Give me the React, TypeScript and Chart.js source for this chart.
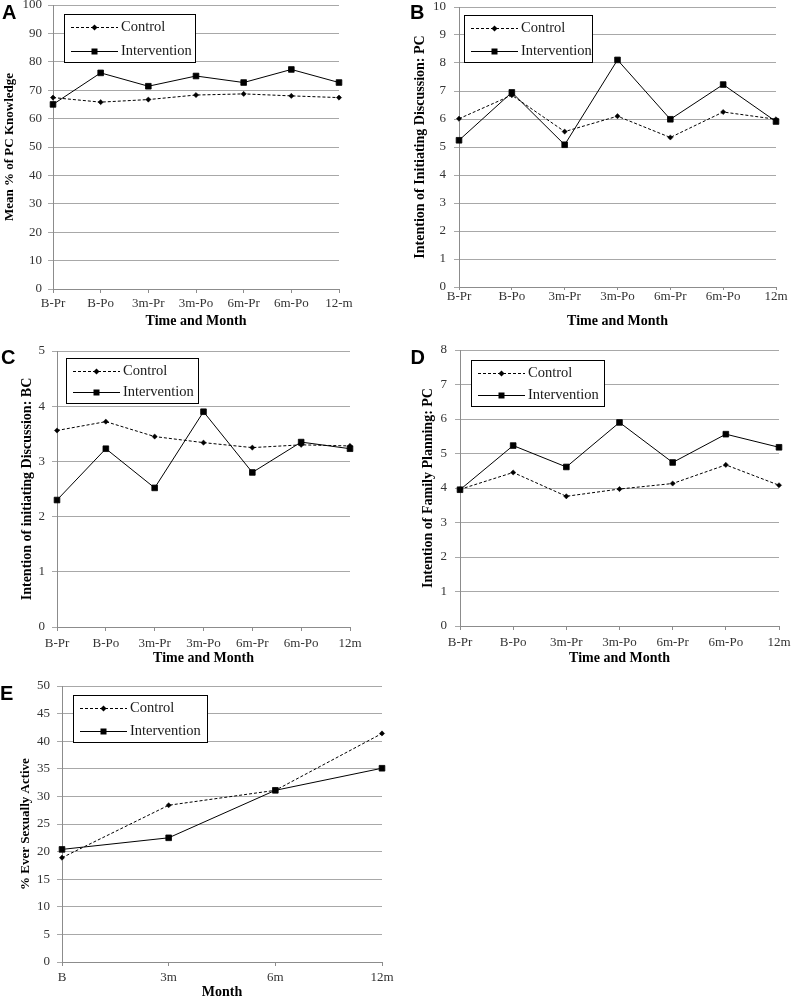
import React, { useEffect, useRef } from 'react';
import { Chart, registerables } from 'chart.js';

Chart.register(...registerables);

// ---------- data ----------
const phaseLabels = ['B-Pr', 'B-Po', '3m-Pr', '3m-Po', '6m-Pr', '6m-Po', '12m'];
const phaseLabelsA = ['B-Pr', 'B-Po', '3m-Pr', '3m-Po', '6m-Pr', '6m-Po', '12-m'];
const monthLabels = ['B', '3m', '6m', '12m'];

const knowledgeControl = [67.4, 65.8, 66.7, 68.3, 68.7, 68.0, 67.4];
const knowledgeIntervention = [65.0, 76.1, 71.4, 75.0, 72.7, 77.3, 72.7];

const discussPcControl = [6.01, 6.85, 5.55, 6.1, 5.34, 6.25, 5.99];
const discussPcIntervention = [5.24, 6.95, 5.08, 8.11, 5.99, 7.23, 5.91];

const discussBcControl = [3.56, 3.72, 3.45, 3.34, 3.25, 3.3, 3.28];
const discussBcIntervention = [2.3, 3.23, 2.52, 3.9, 2.8, 3.35, 3.23];

const familyControl = [3.96, 4.45, 3.76, 3.97, 4.13, 4.67, 4.08];
const familyIntervention = [3.95, 5.23, 4.61, 5.9, 4.74, 5.56, 5.18];

const sexControl = [18.9, 28.4, 31.1, 41.4];
const sexIntervention = [20.4, 22.5, 31.1, 35.1];

const seriesNames = ['Control', 'Intervention'];

// ---------- layout ----------
type Panel = {
  letter: string; letterX: number; letterY: number;
  left: number; top: number; width: number; height: number;
  padTop: number; padRight: number; yWidth: number; xHeight: number;
  labels: string[]; control: number[]; intervention: number[];
  yMax: number; yStep: number;
  yTitle: string; yTitleSize: number; yTitlePad: number; yTickPad: number;
  xTitle: string; xTitlePad: number; xTickPad: number; xTickLen: number;
  legend: { dx: number; dy: number; w: number; h: number };
};

const panels: Panel[] = [
  {
    letter: 'A', letterX: 2, letterY: 19,
    left: 0, top: 0, width: 395, height: 330,
    padTop: 5, padRight: 56, yWidth: 53, xHeight: 41,
    labels: phaseLabelsA, control: knowledgeControl, intervention: knowledgeIntervention,
    yMax: 100, yStep: 10,
    yTitle: 'Mean % of PC Knowledge', yTitleSize: 13, yTitlePad: 2, yTickPad: 6,
    xTitle: 'Time and Month', xTitlePad: 0, xTickPad: 3, xTickLen: 4,
    legend: { dx: 11, dy: 9, w: 131, h: 48 },
  },
  {
    letter: 'B', letterX: 15, letterY: 18.5,
    left: 395, top: 0, width: 398, height: 330,
    padTop: 7, padRight: 17, yWidth: 64, xHeight: 43,
    labels: phaseLabels, control: discussPcControl, intervention: discussPcIntervention,
    yMax: 10, yStep: 1,
    yTitle: 'Intention of Initiating Discussion: PC', yTitleSize: 14, yTitlePad: 16.6, yTickPad: 8,
    xTitle: 'Time and Month', xTitlePad: 0, xTickPad: -1, xTickLen: 3,
    legend: { dx: 5, dy: 8, w: 128, h: 47 },
  },
  {
    letter: 'C', letterX: 1, letterY: 33.5,
    left: 0, top: 330, width: 395, height: 335,
    padTop: 21, padRight: 45, yWidth: 57, xHeight: 38,
    labels: phaseLabels, control: discussBcControl, intervention: discussBcIntervention,
    yMax: 5, yStep: 1,
    yTitle: 'Intention of initiating Discussion: BC', yTitleSize: 14, yTitlePad: 19, yTickPad: 7,
    xTitle: 'Time and Month', xTitlePad: -2, xTickPad: 5, xTickLen: 4,
    legend: { dx: 9, dy: 7, w: 132, h: 45 },
  },
  {
    letter: 'D', letterX: 15.5, letterY: 34,
    left: 395, top: 330, width: 398, height: 335,
    padTop: 20, padRight: 14, yWidth: 65, xHeight: 39,
    labels: phaseLabels, control: familyControl, intervention: familyIntervention,
    yMax: 8, yStep: 1,
    yTitle: 'Intention of Family Planning: PC', yTitleSize: 14, yTitlePad: 25, yTickPad: 8,
    xTitle: 'Time and Month', xTitlePad: -2, xTickPad: 5, xTickLen: 4,
    legend: { dx: 11, dy: 10, w: 133, h: 46 },
  },
  {
    letter: 'E', letterX: 0, letterY: 34.5,
    left: 0, top: 665, width: 400, height: 333,
    padTop: 21, padRight: 18, yWidth: 62, xHeight: 36,
    labels: monthLabels, control: sexControl, intervention: sexIntervention,
    yMax: 50, yStep: 5,
    yTitle: '% Ever Sexually Active', yTitleSize: 13, yTitlePad: 18, yTickPad: 7,
    xTitle: 'Month', xTitlePad: -3, xTickPad: 3.7, xTickLen: 4,
    legend: { dx: 11, dy: 9, w: 134, h: 47 },
  },
];

const SERIF = '"Liberation Serif", "Times New Roman", serif';

function drawMarker(ctx: CanvasRenderingContext2D, style: string, x: number, y: number) {
  ctx.beginPath();
  if (style === 'rect') {
    ctx.rect(x - 3, y - 3, 6, 6);
  } else {
    ctx.moveTo(x, y - 3);
    ctx.lineTo(x + 3, y);
    ctx.lineTo(x, y + 3);
    ctx.lineTo(x - 3, y);
    ctx.closePath();
  }
  ctx.fillStyle = '#000';
  ctx.fill();
}

function makePlugins(p: Panel) {
  return [
    {
      id: 'boxLegend',
      afterDatasetsDraw(chart: any) {
        const { ctx, chartArea } = chart;
        const x = Math.round(chartArea.left + p.legend.dx);
        const y = Math.round(chartArea.top + p.legend.dy);
        ctx.save();
        ctx.fillStyle = '#fff';
        ctx.fillRect(x, y, p.legend.w, p.legend.h);
        ctx.strokeStyle = '#000';
        ctx.lineWidth = 1;
        ctx.setLineDash([]);
        ctx.strokeRect(x + 0.5, y + 0.5, p.legend.w, p.legend.h);
        chart.data.datasets.forEach((ds: any, i: number) => {
          const cy = Math.round(y + (i === 0 ? 13 : p.legend.h - 11)) + 0.5;
          ctx.strokeStyle = '#000';
          ctx.lineWidth = 1;
          ctx.setLineDash(ds.borderDash || []);
          ctx.beginPath();
          ctx.moveTo(x + 7, cy);
          ctx.lineTo(x + 54, cy);
          ctx.stroke();
          ctx.setLineDash([]);
          drawMarker(ctx, ds.pointStyle, x + 30.5, cy);
          ctx.fillStyle = '#1a1a1a';
          ctx.font = '14.5px ' + SERIF;
          ctx.textBaseline = 'middle';
          ctx.textAlign = 'left';
          ctx.fillText(ds.label, x + 57, cy);
        });
        ctx.restore();
      },
    },
    {
      id: 'panelLetter',
      afterDraw(chart: any) {
        const { ctx } = chart;
        ctx.save();
        ctx.font = 'bold 20px "Liberation Sans", Arial, sans-serif';
        ctx.fillStyle = '#000';
        ctx.textBaseline = 'alphabetic';
        ctx.textAlign = 'left';
        ctx.fillText(p.letter, p.letterX, p.letterY);
        ctx.restore();
      },
    },
  ];
}

function PanelChart({ p }: { p: Panel }) {
  const ref = useRef<HTMLCanvasElement>(null);
  useEffect(() => {
    const canvas = ref.current as HTMLCanvasElement;
    const chart = new Chart(canvas, {
      type: 'line',
      data: {
        labels: p.labels,
        datasets: [
          {
            label: seriesNames[0],
            data: p.control,
            borderColor: '#000',
            backgroundColor: '#000',
            borderWidth: 1,
            borderDash: [3, 2],
            pointStyle: 'rectRot',
            pointRadius: 2.6,
            pointBorderWidth: 0.5,
            pointBackgroundColor: '#000',
            pointBorderColor: '#000',
            tension: 0,
            clip: false,
          } as any,
          {
            label: seriesNames[1],
            data: p.intervention,
            borderColor: '#000',
            backgroundColor: '#000',
            borderWidth: 1,
            pointStyle: 'rect',
            pointRadius: 4,
            pointBorderWidth: 0.8,
            pointBackgroundColor: '#000',
            pointBorderColor: '#000',
            tension: 0,
            clip: false,
          } as any,
        ],
      },
      options: {
        responsive: false,
        animation: false,
        devicePixelRatio: 1,
        layout: { padding: { top: p.padTop, right: p.padRight, left: 0, bottom: 0 } },
        plugins: { legend: { display: false }, tooltip: { enabled: false } },
        events: [],
        scales: {
          x: {
            type: 'category',
            offset: false,
            ticks: {
              color: '#333',
              font: { family: SERIF, size: 13 },
              padding: p.xTickPad,
              maxRotation: 0,
              minRotation: 0,
              autoSkip: false,
            },
            grid: {
              display: true,
              drawOnChartArea: false,
              drawTicks: true,
              tickLength: p.xTickLen,
              color: '#8c8c8c',
            },
            border: { display: true, color: '#8c8c8c', width: 1 },
            title: {
              display: true,
              text: p.xTitle,
              color: '#000',
              font: { family: SERIF, size: 14, weight: 'bold' },
              padding: { top: 0, bottom: p.xTitlePad },
            },
            afterFit: (s: any) => {
              s.height = p.xHeight;
              s.paddingLeft = 0;
              s.paddingRight = 0;
              s.paddingTop = 0;
              s.paddingBottom = 0;
            },
          } as any,
          y: {
            min: 0,
            max: p.yMax,
            ticks: {
              stepSize: p.yStep,
              color: '#333',
              font: { family: SERIF, size: 13 },
              padding: p.yTickPad,
            },
            grid: {
              color: '#a8a8a8',
              lineWidth: 1,
              drawTicks: true,
              tickLength: 5,
            },
            border: { display: true, color: '#8c8c8c', width: 1 },
            title: {
              display: true,
              text: p.yTitle,
              color: '#000',
              font: { family: SERIF, size: p.yTitleSize, weight: 'bold' },
              padding: { top: p.yTitlePad, bottom: 0 },
            },
            afterFit: (s: any) => {
              s.width = p.yWidth;
              s.paddingLeft = 0;
              s.paddingRight = 0;
              s.paddingTop = 0;
              s.paddingBottom = 0;
            },
          } as any,
        },
      },
      plugins: makePlugins(p) as any,
    });
    return () => chart.destroy();
  }, [p]);
  return (
    <canvas
      ref={ref}
      width={p.width}
      height={p.height}
      style={{ position: 'absolute', left: p.left, top: p.top, width: p.width, height: p.height }}
    />
  );
}

export default function App() {
  return (
    <div
      style={{
        position: 'fixed',
        left: 0,
        top: 0,
        width: 793,
        height: 998,
        background: '#fff',
        overflow: 'hidden',
      }}
    >
      {panels.map((p) => (
        <PanelChart key={p.letter} p={p} />
      ))}
    </div>
  );
}
